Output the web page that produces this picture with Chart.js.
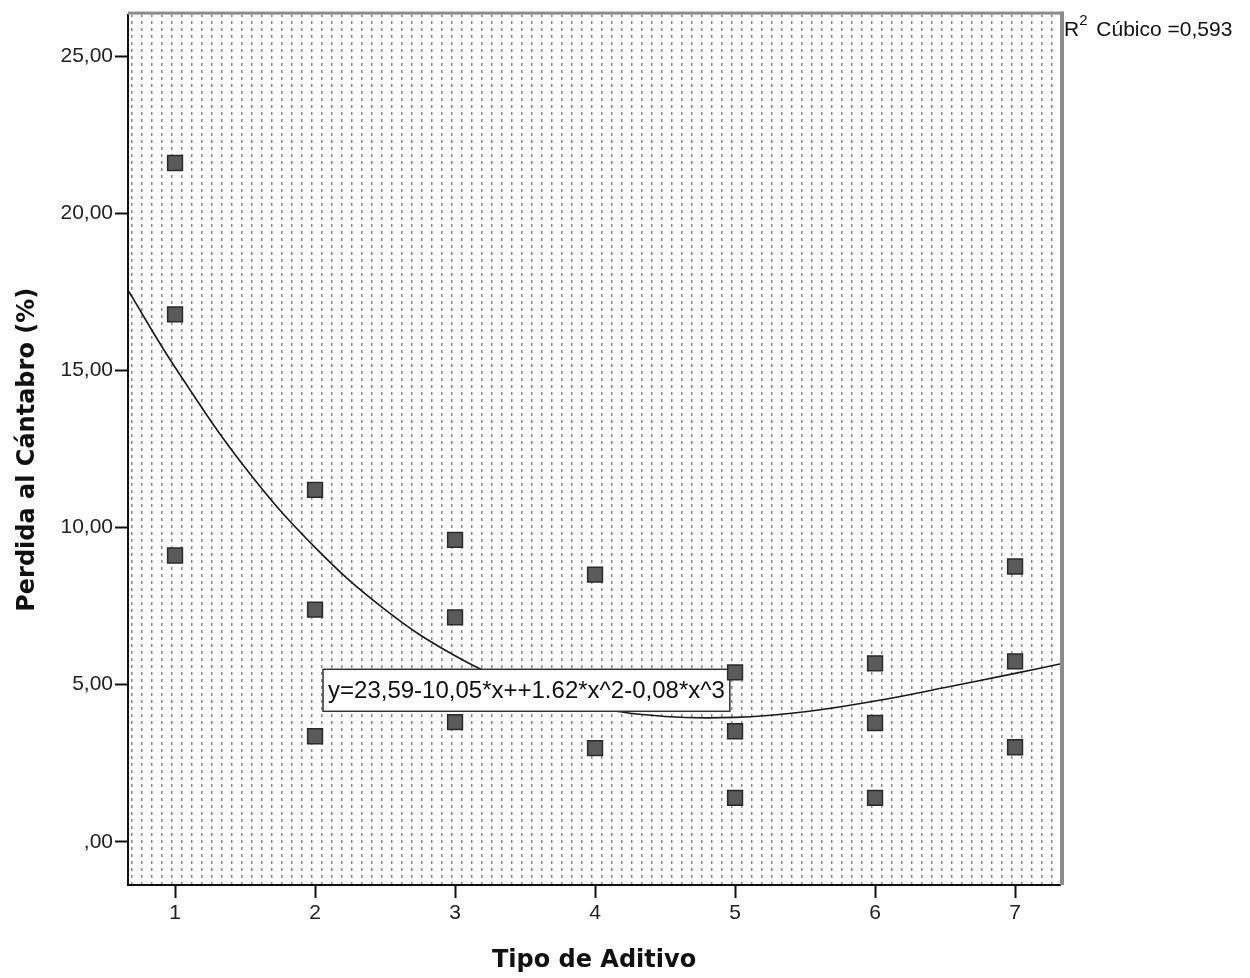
<!DOCTYPE html>
<html>
<head>
<meta charset="utf-8">
<script src="https://cdn.jsdelivr.net/npm/chart.js@4.4.1/dist/chart.umd.min.js"></script>
<style>
  html, body { margin: 0; padding: 0; background: #fff; }
  #wrap { width: 1250px; height: 978px; position: relative; }
</style>
</head>
<body>
<div id="wrap"><canvas id="scatterChart"></canvas></div>
<script>
// Observed values (Tipo de Aditivo vs Perdida al Cántabro)
const aditivoX = [1, 1, 1, 2, 2, 2, 3, 3, 3, 4, 4, 5, 5, 5, 6, 6, 6, 7, 7, 7];
const perdidaY = [21.6, 16.78, 9.11, 11.2, 7.39, 3.36, 9.61, 7.14, 3.81, 8.5, 2.98,
                  5.39, 3.52, 1.4, 5.68, 3.78, 1.4, 8.76, 5.74, 3.01];

// Cubic fit line
const curveX = [0.664, 1.0, 1.5, 2.0, 2.5, 3.0, 3.5, 4.0, 4.5, 5.0, 5.5, 6.0, 6.5, 7.0, 7.321];
const curveY = [17.55, 15.1, 11.91, 9.37, 7.39, 5.92, 4.91, 4.28, 3.99, 3.96, 4.14, 4.48, 4.91, 5.36, 5.66];

const xTicks = [1, 2, 3, 4, 5, 6, 7];
const yTicks = [0, 5, 10, 15, 20, 25];

const equationText = "y=23,59-10,05*x++1.62*x^2-0,08*x^3";
const equationAnchor = [2.057, 5.49]; // top-left of the box, in data units
const r2Text = " Cúbico =0,593";

// Dotted SPSS-style fill for the plot area
function makeDotPattern(ctx) {
  const tile = document.createElement("canvas");
  tile.width = 10;
  tile.height = 7;
  const g = tile.getContext("2d");
  g.fillStyle = "#8a8a8a";
  g.fillRect(1, 0, 1, 3);
  g.fillStyle = "#c4c4c4";
  g.fillRect(2, 0, 1, 3);
  return ctx.createPattern(tile, "repeat");
}

const backgroundPlugin = {
  id: "plotBackground",
  beforeDraw(chart) {
    const { ctx, chartArea: a } = chart;
    ctx.save();
    ctx.fillStyle = "#ffffff";
    ctx.fillRect(0, 0, chart.width, chart.height);
    ctx.fillStyle = makeDotPattern(ctx);
    ctx.fillRect(a.left, a.top, a.right - a.left, a.bottom - a.top);
    ctx.restore();
  },
  afterDatasetDraw(chart, args) {
    if (args.index !== 1) return;
    // equation label box, drawn over the fit line but under the markers
    const { ctx } = chart;
    const x0 = chart.scales.x.getPixelForValue(equationAnchor[0]);
    const y0 = chart.scales.y.getPixelForValue(equationAnchor[1]);
    ctx.save();
    ctx.font = "24px 'Liberation Sans', Arial, sans-serif";
    const w = ctx.measureText(equationText).width + 10;
    const h = 42;
    ctx.fillStyle = "#ffffff";
    ctx.fillRect(x0, y0, w, h);
    ctx.strokeStyle = "#333333";
    ctx.lineWidth = 1.5;
    ctx.strokeRect(x0, y0, w, h);
    ctx.fillStyle = "#111111";
    ctx.textBaseline = "middle";
    ctx.fillText(equationText, x0 + 5, y0 + h / 2 + 1);
    ctx.restore();
  },
  afterDraw(chart) {
    const { ctx, chartArea: a } = chart;
    ctx.save();
    // gray frame on top and right
    ctx.fillStyle = "#8c8c8c";
    ctx.fillRect(a.left, a.top - 3, a.right - a.left + 4, 3);
    ctx.fillRect(a.right, a.top - 3, 4, a.bottom - a.top + 3);
    // R squared label
    ctx.fillStyle = "#111111";
    ctx.textBaseline = "alphabetic";
    ctx.font = "21px 'Liberation Sans', Arial, sans-serif";
    let tx = a.right + 4;
    ctx.fillText("R", tx, 36);
    tx += ctx.measureText("R").width;
    ctx.font = "15px 'Liberation Sans', Arial, sans-serif";
    ctx.fillText("2", tx, 25);
    tx += ctx.measureText("2").width + 3;
    ctx.font = "21px 'Liberation Sans', Arial, sans-serif";
    ctx.fillText(r2Text, tx, 36);
    ctx.restore();
  }
};

const tickFont = { family: "'Liberation Sans', Arial, sans-serif", size: 21 };
const titleFont = { family: "'DejaVu Sans', Verdana, sans-serif", size: 24, weight: "bold" };

new Chart(document.getElementById("scatterChart"), {
  type: "scatter",
  data: {
    datasets: [
      {
        label: "Perdida al Cántabro",
        data: aditivoX.map((x, i) => ({ x: x, y: perdidaY[i] })),
        pointStyle: "rect",
        pointRadius: 10.5,
        pointHoverRadius: 10.5,
        backgroundColor: "#5a5a5a",
        borderColor: "#2a2a2a",
        borderWidth: 1.5,
        order: 1
      },
      {
        label: "Cúbico",
        type: "line",
        data: curveX.map((x, i) => ({ x: x, y: curveY[i] })),
        borderColor: "#1a1a1a",
        borderWidth: 1.6,
        pointRadius: 0,
        fill: false,
        tension: 0.4,
        order: 2
      }
    ]
  },
  options: {
    responsive: true,
    maintainAspectRatio: false,
    animation: false,
    layout: { padding: { top: 12, right: 190, left: 0, bottom: 0 } },
    plugins: {
      legend: { display: false },
      tooltip: { enabled: false }
    },
    scales: {
      x: {
        type: "linear",
        min: 0.664,
        max: 7.321,
        afterBuildTicks: (scale) => { scale.ticks = xTicks.map(v => ({ value: v })); },
        afterFit: (scale) => { scale.height = 93; },
        grid: { drawOnChartArea: false, tickLength: 13, tickColor: "#111", tickWidth: 2 },
        border: { color: "#111", width: 2 },
        ticks: { color: "#222", font: tickFont, padding: 3, maxRotation: 0 },
        title: { display: true, text: "Tipo de Aditivo", color: "#111", font: titleFont,
                 padding: { top: 0, bottom: 3 } }
      },
      y: {
        type: "linear",
        min: -1.373,
        max: 26.32,
        afterBuildTicks: (scale) => { scale.ticks = yTicks.map(v => ({ value: v })); },
        afterFit: (scale) => { scale.width = 128; },
        grid: { drawOnChartArea: false, tickLength: 13, tickColor: "#111", tickWidth: 2 },
        border: { color: "#111", width: 2 },
        ticks: {
          color: "#222",
          font: tickFont,
          padding: 2,
          callback: (v) => v === 0 ? ",00" : v.toFixed(2).replace(".", ",")
        },
        title: { display: true, text: "Perdida al Cántabro (%)", color: "#111", font: titleFont,
                 padding: { top: 13, bottom: 0 } }
      }
    }
  },
  plugins: [backgroundPlugin]
});
</script>
</body>
</html>
